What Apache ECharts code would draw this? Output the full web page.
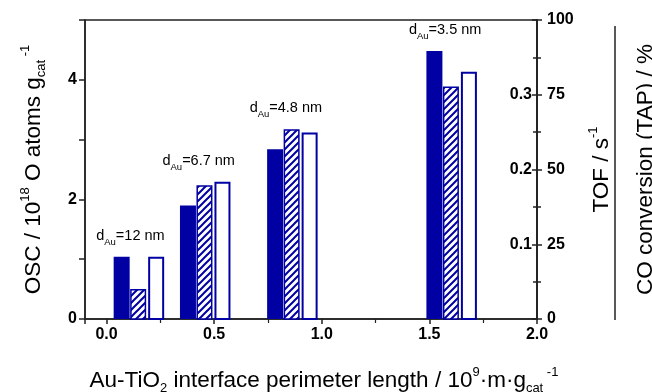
<!DOCTYPE html>
<html>
<head>
<meta charset="utf-8">
<script src="https://cdn.jsdelivr.net/npm/echarts@6/dist/echarts.min.js"></script>
<style>
  html, body { margin: 0; background: #fff; }
  #chart { width: 652px; height: 392px; }
</style>
</head>
<body>
<div id="chart"></div>
<script>
// Au-TiO2 interface perimeter length, 10^9 m g_cat^-1
const perimeter = [0.147, 0.455, 0.86, 1.6];
// Au particle size, nm
const particleSize = ['12', '6.7', '4.8', '3.5'];
// OSC, 10^18 O atoms g_cat^-1
const osc = [1.04, 1.90, 2.84, 4.48];
// TOF, s^-1
const tof = [0.040, 0.179, 0.254, 0.311];
// CO conversion (TAP), %
const coConversion = [20.8, 45.9, 62.4, 82.7];

const NAVY = '#0000a3';
const FONT = 'Liberation Sans, Arial, sans-serif';
const BAR_W = 16;

const OSC_MAX = 5;
const TOF_MAX = 0.4;
const CO_MAX = 100;

// diagonal hatch for the TOF bars
function makeHatch() {
  const s = 7;
  const c = document.createElement('canvas');
  c.width = s;
  c.height = s;
  const ctx = c.getContext('2d');
  ctx.fillStyle = '#fff';
  ctx.fillRect(0, 0, s, s);
  ctx.strokeStyle = NAVY;
  ctx.lineWidth = 2;
  ctx.beginPath();
  ctx.moveTo(0, s); ctx.lineTo(s, 0);
  ctx.moveTo(-1, 1); ctx.lineTo(1, -1);
  ctx.moveTo(s - 1, s + 1); ctx.lineTo(s + 1, s - 1);
  ctx.stroke();
  return c;
}

function barRenderer(shift, style) {
  const inset = (style.lineWidth || 0) / 2;
  return function (params, api) {
    const base = api.coord([api.value(0), 0]);
    const top = api.coord([api.value(0), api.value(1)]);
    return {
      type: 'rect',
      shape: {
        x: base[0] + shift - BAR_W / 2 + inset,
        y: top[1] + inset,
        width: BAR_W - inset * 2,
        height: base[1] - top[1] - inset,
      },
      style: style,
    };
  };
}

// tallest bar of each group, in OSC axis units
function groupTop(i) {
  return Math.max(osc[i], tof[i] / TOF_MAX * OSC_MAX, coConversion[i] / CO_MAX * OSC_MAX);
}

const tickLabel = { color: '#000', fontFamily: FONT, fontWeight: 'bold', fontSize: 16 };
const nameRich = {
  sup: { fontFamily: FONT, fontSize: 13, lineHeight: 12, verticalAlign: 'top', color: '#000' },
  sub: { fontFamily: FONT, fontSize: 13, lineHeight: 12, verticalAlign: 'bottom', color: '#000' },
};
const nameStyle = { color: '#000', fontFamily: FONT, fontSize: 22.5, lineHeight: 29, rich: nameRich };
const axisLine = { show: true, onZero: false, lineStyle: { color: '#222', width: 1.5 } };

const chart = echarts.init(document.getElementById('chart'));

chart.setOption({
  animation: false,
  grid: {
    left: 85, right: 115, top: 20, bottom: 73,
    outerBoundsMode: 'none',
    show: true, borderColor: '#222', borderWidth: 1.5, backgroundColor: 'transparent',
  },
  xAxis: {
    type: 'value',
    min: -0.1,
    max: 2.0,
    splitNumber: 5,
    axisLine: axisLine,
    axisTick: { length: 5, lineStyle: { color: '#222', width: 1.5 } },
    minorTick: { show: true, splitNumber: 2, length: 4, lineStyle: { color: '#222', width: 1.2 } },
    splitLine: { show: false },
    axisLabel: Object.assign({ margin: 8, formatter: (v) => (v < 0 ? '' : v.toFixed(1)) }, tickLabel),
    name: 'Au-TiO{sub|2} interface perimeter length / 10{sup|9}·m·g{sub|cat}{sup| -1}',
    nameLocation: 'middle',
    nameGap: 47,
    nameTextStyle: Object.assign({ padding: [0, 0, 0, 26] }, nameStyle),
  },
  yAxis: [
    {
      type: 'value',
      min: 0,
      max: OSC_MAX,
      interval: 1,
      axisLine: axisLine,
      axisTick: { length: 6, lineStyle: { color: '#222', width: 1.5 } },
      splitLine: { show: false },
      axisLabel: Object.assign({ margin: 8, formatter: (v) => (v % 2 === 0 ? String(v) : '') }, tickLabel),
      name: 'OSC / 10{sup|18} O atoms g{sub|cat}{sup| -1}',
      nameLocation: 'middle',
      nameRotate: 90,
      nameGap: 37,
      nameTextStyle: nameStyle,
    },
    {
      type: 'value',
      position: 'right',
      min: 0,
      max: TOF_MAX,
      interval: 0.1,
      axisLine: axisLine,
      axisTick: { inside: true, length: 5, lineStyle: { color: '#222', width: 1.5 } },
      minorTick: { show: true, splitNumber: 2, length: 4, lineStyle: { color: '#222', width: 1.5 } },
      splitLine: { show: false },
      axisLabel: Object.assign({
        inside: true, margin: 5,
        formatter: (v) => (v === 0 || v >= TOF_MAX ? '' : v.toFixed(1)),
      }, tickLabel),
      name: 'TOF / s{sup|-1}',
      nameLocation: 'middle',
      nameRotate: 90,
      nameGap: 50,
      nameTextStyle: nameStyle,
    },
    {
      type: 'value',
      position: 'right',
      min: 0,
      max: CO_MAX,
      interval: 25,
      axisLine: axisLine,
      axisTick: { length: 5, lineStyle: { color: '#222', width: 1.5 } },
      minorTick: { show: true, splitNumber: 2, length: 4, lineStyle: { color: '#222', width: 1.5 } },
      splitLine: { show: false },
      axisLabel: Object.assign({ margin: 10 }, tickLabel),
      name: 'CO conversion (TAP) / %',
      nameLocation: 'middle',
      nameRotate: 90,
      nameGap: 94,
      nameTextStyle: nameStyle,
    },
  ],
  graphic: [
    {
      type: 'line',
      shape: { x1: 615, y1: 26, x2: 615, y2: 320 },
      style: { stroke: '#222', lineWidth: 1.5 },
    },
  ],
  series: [
    {
      name: 'OSC',
      type: 'custom',
      yAxisIndex: 0,
      encode: { x: 0, y: 1 },
      data: perimeter.map((x, i) => [x, osc[i]]),
      renderItem: barRenderer(-16.5, { fill: NAVY }),
      z: 3,
    },
    {
      name: 'TOF',
      type: 'custom',
      yAxisIndex: 1,
      encode: { x: 0, y: 1 },
      data: perimeter.map((x, i) => [x, tof[i]]),
      renderItem: barRenderer(0, { fill: { image: makeHatch(), repeat: 'repeat' }, stroke: NAVY, lineWidth: 1.5 }),
      z: 3,
    },
    {
      name: 'CO conversion',
      type: 'custom',
      yAxisIndex: 2,
      encode: { x: 0, y: 1 },
      data: perimeter.map((x, i) => [x, coConversion[i]]),
      renderItem: barRenderer(18, { fill: '#fff', stroke: NAVY, lineWidth: 2 }),
      z: 3,
    },
    {
      name: 'particle size',
      type: 'custom',
      yAxisIndex: 0,
      encode: { x: 0, y: 1 },
      data: perimeter.map((x, i) => [x, groupTop(i)]),
      renderItem: function (params, api) {
        const p = api.coord([api.value(0), api.value(1)]);
        return {
          type: 'text',
          x: p[0] - 42,
          y: p[1] - 19,
          style: {
            text: '{t|d}{s|Au}{t|=' + particleSize[params.dataIndex] + ' nm}',
            align: 'left',
            verticalAlign: 'middle',
            rich: {
              t: { fontFamily: FONT, fontSize: 14.5, lineHeight: 19, verticalAlign: 'top', color: '#000' },
              s: { fontFamily: FONT, fontSize: 9.5, lineHeight: 9, verticalAlign: 'bottom', color: '#000' },
            },
          },
        };
      },
      z: 4,
    },
  ],
});
</script>
</body>
</html>
